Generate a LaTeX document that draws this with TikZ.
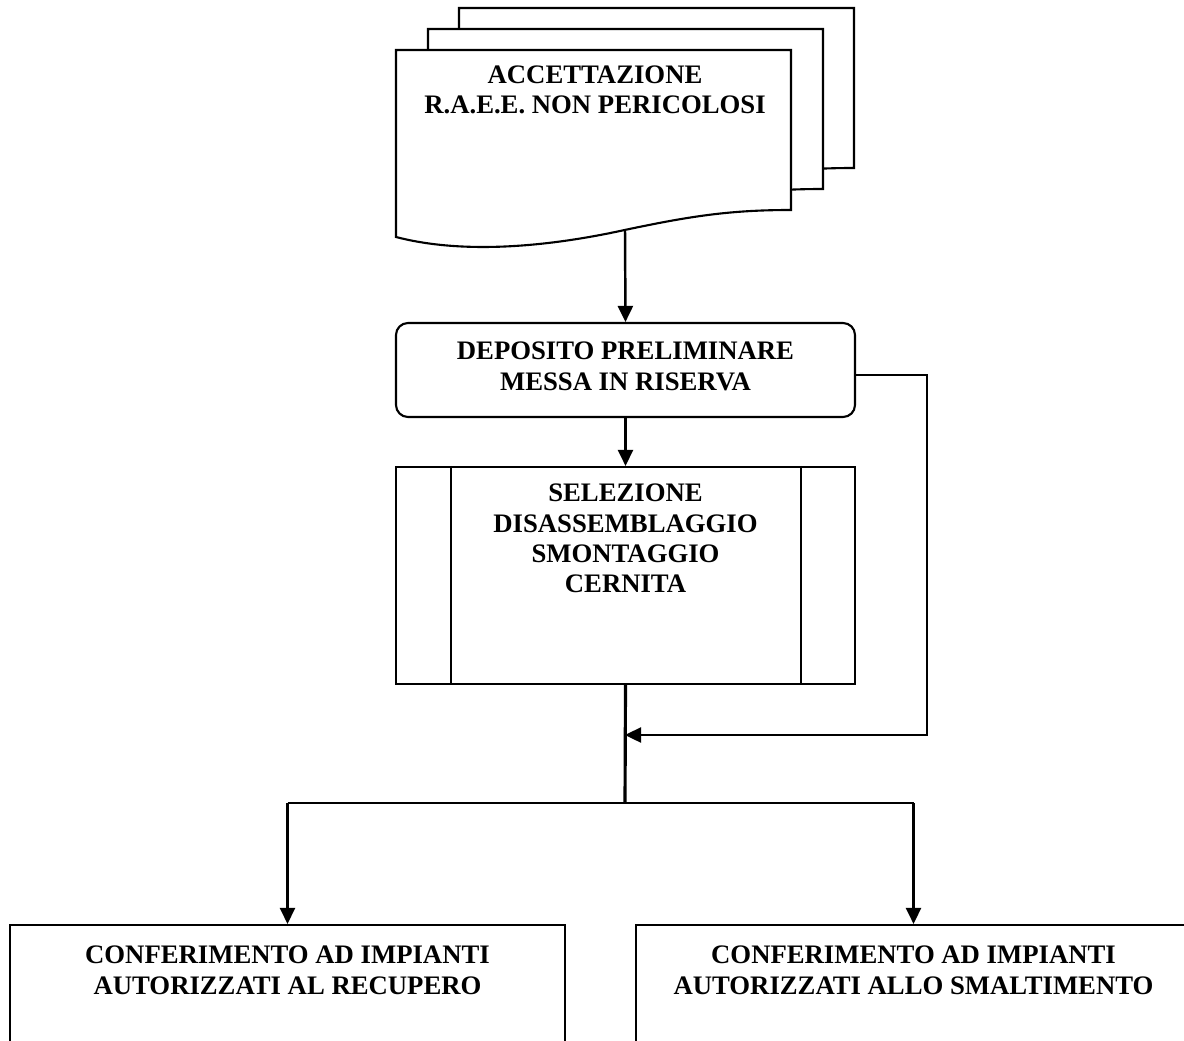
\documentclass[tikz,border=0pt]{standalone}
\usepackage{fontspec}
\setmainfont{Liberation Serif}
\usetikzlibrary{positioning,arrows.meta}
\tikzset{
  box/.style={draw,line width=1.2pt,minimum width=91.8mm},
  lbl/.style={align=center,inner sep=0pt,anchor=north},
  conn/.style={line width=1.4pt},
  arr/.style={conn,-{Triangle[length=3.2mm,width=3mm]}},
  sheet/.style={draw,fill=white,line width=1.2pt},
}

\begin{document}
\begin{tikzpicture}[x=0.2mm,y=-0.2mm,node font=\bfseries\fontsize{15.2}{17.2}\selectfont]
\useasboundingbox (0,0) rectangle (1184,1041);
\clip (0,0) rectangle (1184,1041);
% pile of documents
\foreach \dx/\dy in {63/-42,32/-21,0/0}
  \draw[sheet,shift={(\dx,\dy)}] (396,50) -- (791,50) -- (791,210)
    .. controls (730,210) and (690,216) .. (620,231)
    .. controls (550,246) and (465,255) .. (396,237) -- cycle;
\node[lbl] (acc) at (595,65) {ACCETTAZIONE\\R.A.E.E. NON PERICOLOSI};
\coordinate (accbot) at (625,231);

\node[box,rounded corners=2.4mm,minimum height=18.8mm] (depo) at (625.5,370) {};
\node[lbl,below=4mm of depo.north] (depotxt) {DEPOSITO PRELIMINARE\\MESSA IN RISERVA};

\node[box,minimum height=43.4mm] (sel) at (625.5,575.5) {};
\draw[line width=1.2pt] ([xshift=11.2mm]sel.north west) -- ([xshift=11.2mm]sel.south west)
  ([xshift=-11mm]sel.north east) -- ([xshift=-11mm]sel.south east);
\node[lbl,below=3.6mm of sel.north] (seltxt) {SELEZIONE\\DISASSEMBLAGGIO\\SMONTAGGIO\\CERNITA};

\node[box,minimum width=111mm,minimum height=40mm] (recup) at (287.5,1025) {};
\node[lbl,below=4.4mm of recup.north] (recuptxt) {CONFERIMENTO AD IMPIANTI\\AUTORIZZATI AL RECUPERO};
\node[box,minimum width=111mm,minimum height=40mm] (smalt) at (913.5,1025) {};
\node[lbl,below=4.4mm of smalt.north] (smalttxt) {CONFERIMENTO AD IMPIANTI\\AUTORIZZATI ALLO SMALTIMENTO};

% connectors
\coordinate (merge) at (625,735);
\coordinate (branch) at (625,803);
\draw[arr] (accbot) -- (depo.north);
\draw[arr] (depo.south) -- (sel.north);
\draw[arr] ([yshift=-1mm]depo.east) -- ++(71,0) |- (merge);
\draw[conn,line width=1.8pt] (sel.south) -- (branch);
\draw[conn] (recup.north |- branch) -- (smalt.north |- branch);
\draw[arr] (recup.north |- branch) -- (recup.north);
\draw[arr] (smalt.north |- branch) -- (smalt.north);
\end{tikzpicture}
\end{document}
